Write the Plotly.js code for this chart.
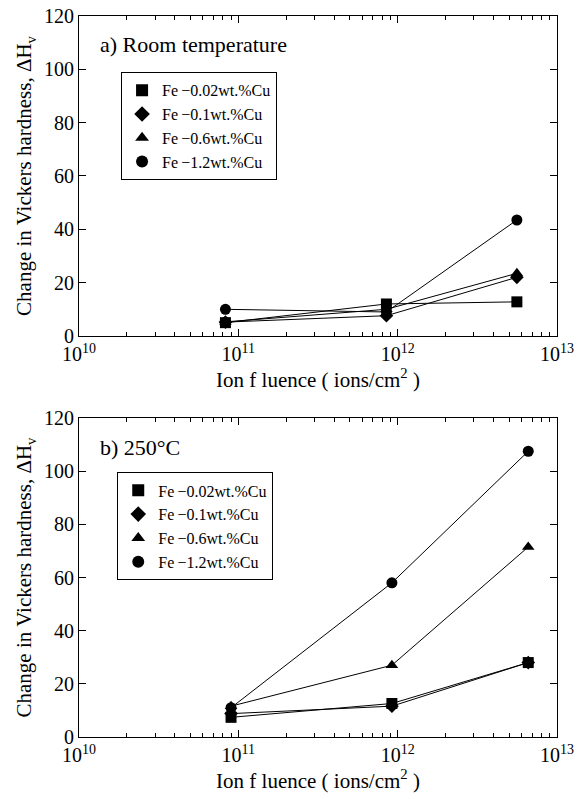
<!DOCTYPE html>
<html><head><meta charset="utf-8">
<script src="https://cdn.plot.ly/plotly-3.0.1.min.js"></script>
<style>body{margin:0;background:#fff}#chart{width:587px;height:799px}</style>
</head><body><div id="chart"></div>
<script>
const seriesNames = ['Fe\u2009\u22120.02wt.%Cu','Fe\u2009\u22120.1wt.%Cu','Fe\u2009\u22120.6wt.%Cu','Fe\u2009\u22121.2wt.%Cu'];
const symbols = ['square','diamond','triangle-up','circle'];
// a) Room temperature
const fluenceRT = [8.3e10, 8.5e11, 5.6e12];
const rtSquare = [5, 12, 12.8];
const rtDiamond = [5.2, 7.6, 22];
const rtTriangle = [5.3, 10, 23.5];
const rtCircle = [10, 9, 43.5];
// b) 250°C
const fluenceHT = [9.0e10, 9.2e11, 6.6e12];
const htSquare = [7.4, 12.6, 28];
const htDiamond = [8.8, 11.6, 28];
const htTriangle = [11.6, 27, 71.5];
const htCircle = [11, 58, 107.5];
const xTickVals = [1e10, 1e11, 1e12, 1e13];
const xTickText = ['10<sup>10</sup>','10<sup>11</sup>','10<sup>12</sup>','10<sup>13</sup>'];
const minorMult = [2, 3, 4, 5, 6, 7, 8, 9];
const minorVals = [];
[1e10, 1e11, 1e12].forEach(d => minorMult.forEach(m => minorVals.push(d * m)));

const font = '"Liberation Serif", "Times New Roman", serif';
const traces = [];
function add(xs, ys, i, xa, ya, leg){
  traces.push({x: xs, y: ys, xaxis: xa, yaxis: ya, mode: 'lines', line: {color: '#000', width: 1}, showlegend: false, hoverinfo: 'skip'});
  traces.push({x: xs, y: ys, xaxis: xa, yaxis: ya, mode: 'markers', name: seriesNames[i], legend: leg,
    marker: {symbol: symbols[i], color: '#000', size: i === 1 ? 10.5 : 11}});
}
[rtSquare, rtDiamond, rtTriangle, rtCircle].forEach((ys, i) => add(fluenceRT, ys, i, 'x', 'y', 'legend'));
[htSquare, htDiamond, htTriangle, htCircle].forEach((ys, i) => add(fluenceHT, ys, i, 'x2', 'y2', 'legend2'));
// empty traces so the minor-tick overlay axes exist
traces.push({x: [], y: [], xaxis: 'x3', yaxis: 'y', showlegend: false, hoverinfo: 'skip'});
traces.push({x: [], y: [], xaxis: 'x4', yaxis: 'y2', showlegend: false, hoverinfo: 'skip'});

function xaxis(anchor){
  return {type: 'log', range: [10, 13], anchor: anchor, domain: [0, 1], tickmode: 'array', tickvals: xTickVals, ticktext: xTickText,
    ticks: 'inside', ticklen: 7, tickcolor: '#000', showline: true, linecolor: '#000', linewidth: 1, mirror: 'ticks',
    showgrid: false, zeroline: false, tickfont: {family: font, size: 20, color: '#000'},
    title: {text: 'Ion f luence ( ions/cm<sup>2</sup> )', font: {family: font, size: 21, color: '#000'}, standoff: 4}};
}
function minorAxis(anchor, over){
  return {type: 'log', range: [10, 13], anchor: anchor, overlaying: over, domain: [0, 1], tickmode: 'array', tickvals: minorVals,
    showticklabels: false, ticks: 'inside', ticklen: 4, tickcolor: '#000', showline: true, linecolor: '#000', linewidth: 1,
    mirror: 'ticks', showgrid: false, zeroline: false, side: 'bottom'};
}
function yaxis(domain, anchor){
  return {domain: domain, anchor: anchor, range: [0, 120], dtick: 20, ticks: 'inside', ticklen: 7, tickcolor: '#000',
    showline: true, linecolor: '#000', linewidth: 1, mirror: 'ticks', showgrid: false, zeroline: false,
    tickfont: {family: font, size: 20, color: '#000'},
    title: {text: 'Change in Vickers hardness, \u0394H<sub>v</sub>', font: {family: font, size: 21, color: '#000'}, standoff: 6}};
}
const legendBase = {bordercolor: '#000', borderwidth: 1, bgcolor: '#fff', font: {family: font, size: 16, color: '#000'},
  xanchor: 'left', yanchor: 'top', tracegroupgap: 0, itemsizing: 'constant'};
const layout = {
  width: 587, height: 799, paper_bgcolor: '#fff', plot_bgcolor: '#fff',
  margin: {l: 79, r: 30, t: 16, b: 62},
  font: {family: font, color: '#000'},
  xaxis: xaxis('y'),
  yaxis: yaxis([0.5562, 1], 'x'),
  xaxis2: xaxis('y2'),
  yaxis2: yaxis([0, 0.4424], 'x2'),
  xaxis3: minorAxis('y', 'x'),
  xaxis4: minorAxis('y2', 'x2'),
  legend: Object.assign({}, legendBase, {x: 0.088, y: 0.922}),
  legend2: Object.assign({}, legendBase, {x: 0.08, y: 0.367}),
  annotations: [
    {text: 'a) Room temperature', xref: 'paper', yref: 'paper', x: 0.04, y: 0.96, xanchor: 'left', yanchor: 'middle', showarrow: false, font: {family: font, size: 22, color: '#000'}},
    {text: 'b) 250\u00B0C', xref: 'paper', yref: 'paper', x: 0.04, y: 0.402, xanchor: 'left', yanchor: 'middle', showarrow: false, font: {family: font, size: 22, color: '#000'}}
  ],
  showlegend: true
};
Plotly.newPlot('chart', traces, layout, {displayModeBar: false, staticPlot: true});
</script></body></html>
